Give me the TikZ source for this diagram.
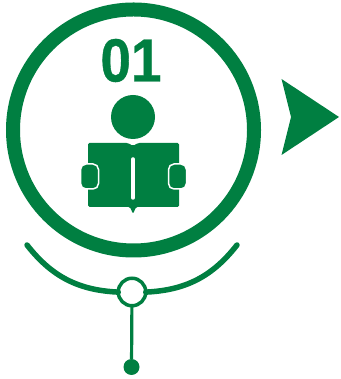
\documentclass[tikz,border=0pt]{standalone}
\usepackage{fontspec}
\setmainfont[FakeStretch=0.9,BoldFeatures={FakeBold=0.6}]{Liberation Sans}
\usepackage{xcolor}
\definecolor{leaf}{HTML}{007F41}
\tikzset{
  every node/.style={inner sep=0pt,outer sep=0pt},
  ringnode/.style={circle,draw=leaf,fill=white,line width=14pt,minimum size=241pt},
  headnode/.style={circle,fill=leaf,minimum size=44pt},
  handnode/.style={rectangle,rounded corners=5.5pt,fill=leaf,draw=white,line width=1.5pt,minimum width=18pt,minimum height=25pt},
  hubnode/.style={circle,draw=leaf,fill=white,line width=3.5pt,minimum size=27.5pt},
  dotnode/.style={circle,fill=leaf,minimum size=16pt},
  arcline/.style={draw=leaf,line width=5.5pt,line cap=round},
  stemline/.style={draw=leaf,line width=3.2pt},
}
\begin{document}
\begin{tikzpicture}[x=1pt,y=1pt]
\useasboundingbox (0,0) rectangle (340,379);
\node[ringnode] (ring) at (133.5,249) {};
\node[font=\bfseries\fontsize{61}{61}\selectfont,text=leaf] (num) at (131,318.5) {01};
\node[headnode] (head) at (133,262) {};

% book
\fill[leaf,rounded corners=1.5pt] (88,236) -- (128,236) -- (133,233) -- (138,236) -- (179,236)
  -- (179,172) -- (136,172) -- (133,165) -- (130,172) -- (88,172) -- cycle;
\draw[white,line width=3.5pt,line cap=round] (133,220) -- (133,181);
\node[handnode] (lefthand) at (89.5,202.5) {};
\node[handnode] (righthand) at (177.5,202.5) {};

% arrow
\fill[leaf] (281.5,300) -- (339,262) -- (281.5,224) -- (291,262) -- cycle;

% hub and arcs
\coordinate (arcleft) at (27,134);
\coordinate (arcright) at (237,134);
\node[hubnode] (hub) at (132,87) {};
\node[dotnode] (dot) at (131.5,12) {};
\path[arcline] (arcleft) to[bend right=24.6] (hub);
\path[arcline] (arcright) to[bend left=24.6] (hub);
\path[stemline] (hub) -- (dot);
\end{tikzpicture}
\end{document}
